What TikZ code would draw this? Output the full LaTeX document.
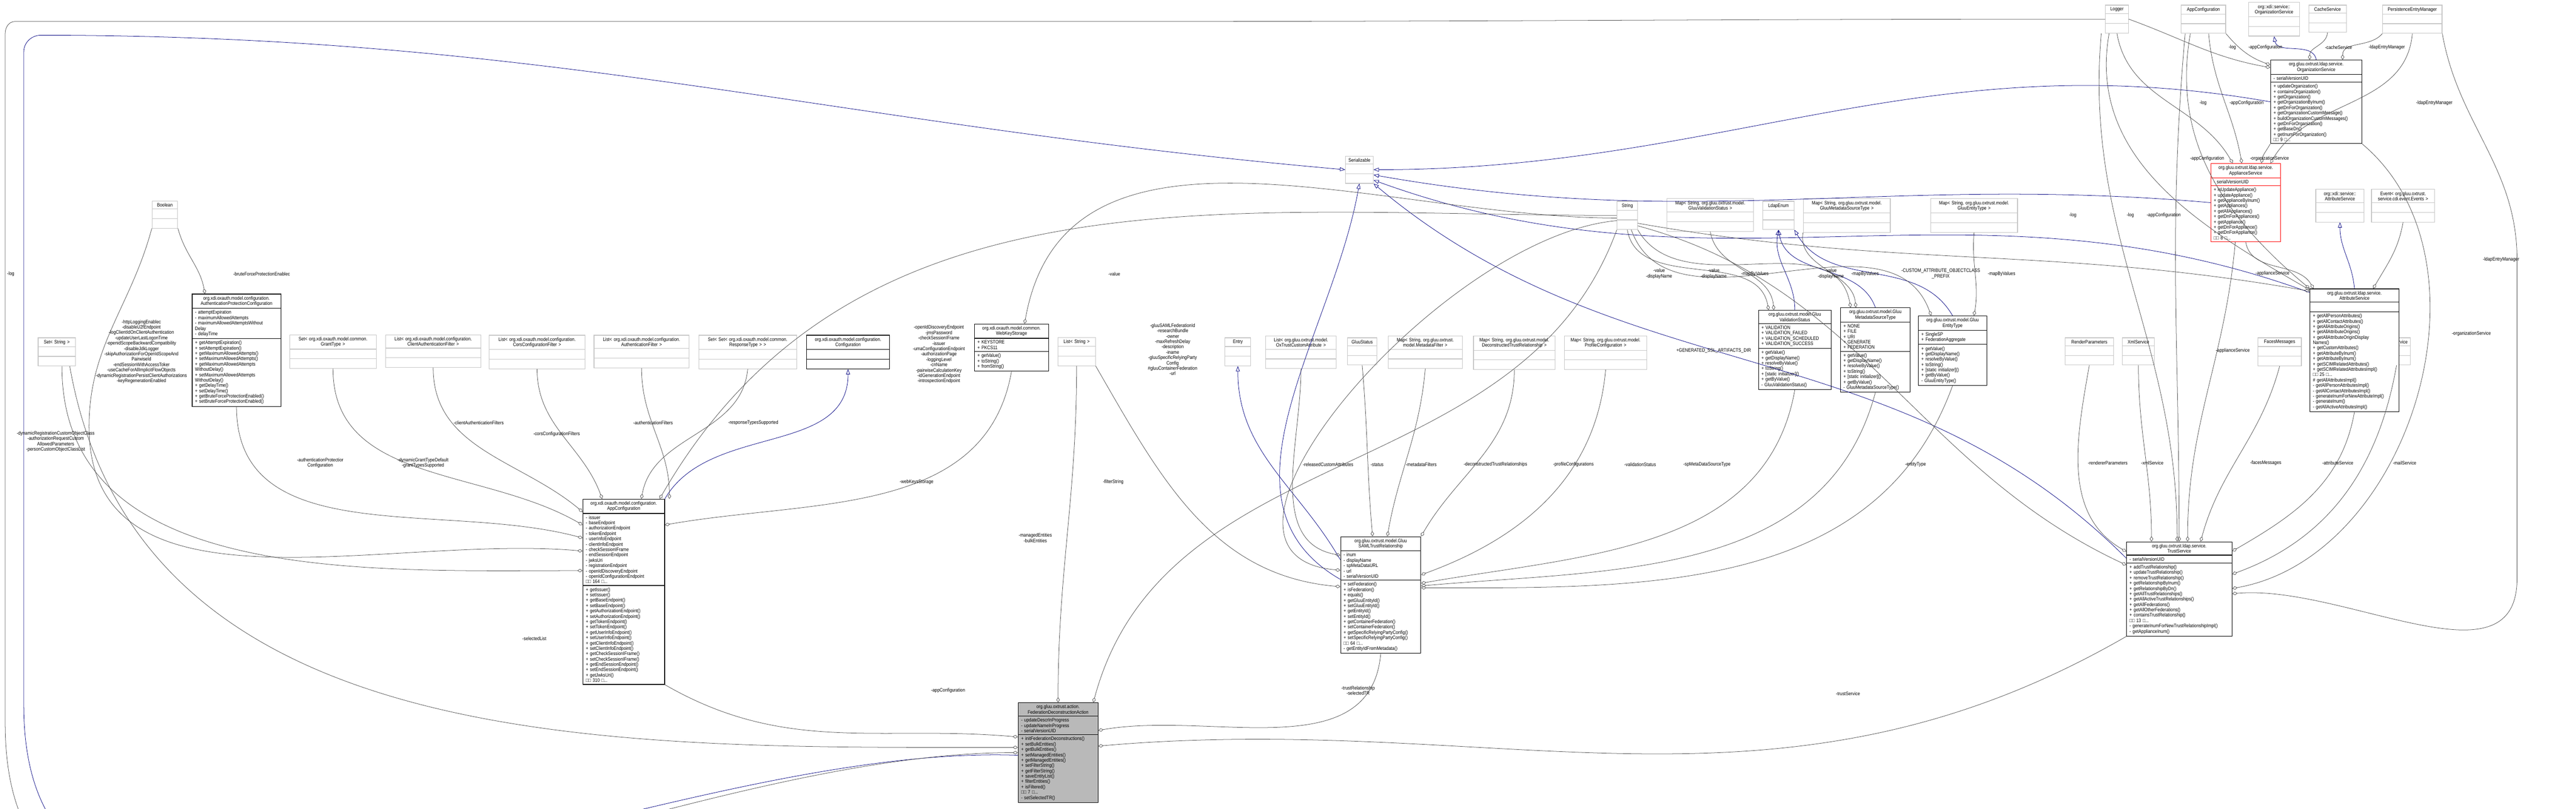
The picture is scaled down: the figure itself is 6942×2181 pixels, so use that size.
\documentclass[tikz,border=0pt]{standalone}
\usepackage{fontspec}
\setmainfont{Liberation Sans}[FakeStretch=0.86]
\usetikzlibrary{shapes.multipart,arrows.meta,positioning}

\newcommand{\fs}{\fontsize{3.8}{4.1}\selectfont}
\newcommand{\more}[1]{□□ #1 □...}

\tikzset{
  cls/.style={rectangle split, rectangle split parts=3, draw=black, line width=0.45pt,
    fill=white, font=\fs, inner xsep=0.08cm, inner ysep=0.05cm, align=left},
  extcls/.style={cls, draw=gray!45},
  redcls/.style={cls, draw=red},
  curcls/.style={cls, fill=gray!55},
  agg/.style={draw=black!70, line width=0.3pt, -{Diamond[open,length=4pt,width=2.6pt]}},
  inh/.style={draw=blue!50!black, line width=0.3pt, -{Triangle[open,length=4pt,width=3pt]}},
  lbl/.style={font=\fs, align=center, inner sep=0.5pt}
}

% class box: [style]{name}{x}{y}{text width}{title}{fields}{methods}
\newcommand{\umlbox}[8][cls]{%
  \node[#1, text width=#5cm, anchor=north west] (#2) at (#3,#4)
    {{\centering #6\par}\nodepart{two}#7\nodepart{three}#8};}
\newcommand{\extbox}[5]{\umlbox[extcls]{#1}{#2}{#3}{#4}{#5}{\strut}{\strut}}

\begin{document}
\begin{tikzpicture}[x=0.01cm, y=-0.01cm]
  \useasboundingbox (0,0) rectangle (6942,2181);

  % external classes, top row
  \extbox{logger}{5673}{13}{0.46}{Logger}
  \extbox{appConfTop}{5877}{13}{1.04}{AppConfiguration}
  \extbox{xdiOrgService}{6059}{6}{1.21}{org::xdi::service::\\OrganizationService}
  \extbox{cacheService}{6221}{13}{0.85}{CacheService}
  \extbox{entryManager}{6420}{13}{1.44}{PersistenceEntryManager}
  \extbox{serializable}{3625}{420}{0.59}{Serializable}
  \extbox{xdiAttrService}{6240}{510}{1.14}{org::xdi::service::\\AttributeService}
  \extbox{eventBox}{6390}{510}{1.54}{Event< org.gluu.oxtrust.\\service.cdi.event.Events >}

  % external classes, middle
  \extbox{boolBox}{409}{541}{0.53}{Boolean}
  \extbox{stringBox}{4357}{542}{0.39}{String}
  \extbox{mapValStatus}{4491}{535}{2.18}{Map< String, org.gluu.oxtrust.model.\\GluuValidationStatus >}
  \extbox{ldapEnum}{4750}{542}{0.68}{LdapEnum}
  \extbox{mapMetaType}{4859}{535}{2.18}{Map< String, org.gluu.oxtrust.model.\\GluuMetadataSourceType >}
  \extbox{mapEntityType}{5202}{535}{2.18}{Map< String, org.gluu.oxtrust.model.\\GluuEntityType >}
  \extbox{setString}{102}{910}{0.84}{Set< String >}
  \extbox{setGrantType}{780}{902}{2.17}{Set< org.xdi.oxauth.model.common.\\GrantType >}
  \extbox{listClientAuth}{1038}{902}{2.41}{List< org.xdi.oxauth.model.configuration.\\ClientAuthenticationFilter >}
  \extbox{listCors}{1318}{903}{2.41}{List< org.xdi.oxauth.model.configuration.\\CorsConfigurationFilter >}
  \extbox{listAuthFilter}{1600}{903}{2.40}{List< org.xdi.oxauth.model.configuration.\\AuthenticationFilter >}
  \extbox{setSetResponse}{1882}{903}{2.48}{Set< Set< org.xdi.oxauth.model.common.\\ResponseType > >}
  \umlbox{configuration}{2173}{903}{2.07}{org.xdi.oxauth.model.configuration.\\Configuration}{\strut}{\strut}
  \extbox{listString}{2850}{909}{0.85}{List< String >}
  \extbox{entryBox}{3300}{910}{0.54}{Entry}
  \extbox{listCustomAttr}{3410}{905}{1.74}{List< org.gluu.oxtrust.model.\\OxTrustCustomAttribute >}
  \extbox{gluuStatus}{3630}{910}{0.64}{GluuStatus}
  \extbox{mapFilters}{3740}{905}{1.84}{Map< String, org.gluu.oxtrust.\\model.MetadataFilter >}
  \extbox{mapDecon}{3970}{905}{2.04}{Map< String, org.gluu.oxtrust.model.\\DeconstructedTrustRelationship >}
  \extbox{mapProfile}{4215}{905}{2.06}{Map< String, org.gluu.oxtrust.model.\\ProfileConfiguration >}
  \extbox{rendererParams}{5564}{910}{1.15}{RenderParameters}
  \extbox{xmlService}{5719}{910}{0.70}{XmlService}
  \extbox{facesMessages}{6084}{910}{1.01}{FacesMessages}
  \extbox{mailService}{6420}{910}{0.59}{MailService}

  % documented classes
  \umlbox{orgService}{6118}{161}{2.30}{org.gluu.oxtrust.ldap.service.\\OrganizationService}
    {- serialVersionUID}
    {+ updateOrganization()\\+ containsOrganization()\\+ getOrganization()\\+ getOrganizationByInum()\\+ getDnForOrganization()\\+ getOrganizationCustomMessage()\\+ buildOrganizationCustomMessages()\\+ getDnForOrganization()\\+ getBaseDn()\\+ getInumForOrganization()\\\more{9}}
  \umlbox[redcls]{applianceService}{5957}{440}{1.72}{org.gluu.oxtrust.ldap.service.\\ApplianceService}
    {- serialVersionUID}
    {+ isUpdateAppliance()\\+ updateAppliance()\\+ getApplianceByInum()\\+ getAppliances()\\+ getAllAppliances()\\+ getDnForAppliances()\\+ getAppliance()\\+ getDnForAppliance()\\+ getDnForAppliance()\\\more{8}}
  \umlbox{attributeService}{6224}{778}{2.24}{org.gluu.oxtrust.ldap.service.\\AttributeService}
    {\strut}
    {+ getAllPersonAttributes()\\+ getAllContactAttributes()\\+ getAllAttributeOrigins()\\+ getAllAttributeOrigins()\\+ getAllAttributeOriginDisplay\\Names()\\+ getCustomAttributes()\\+ getAttributeByInum()\\+ getAttributeByInum()\\+ getSCIMRelatedAttributes()\\+ getSCIMRelatedAttributesImpl()\\\more{25}\\\# getAllAttributesImpl()\\- getAllPersonAttributesImpl()\\- getAllContactAttributesImpl()\\- generateInumForNewAttributeImpl()\\- generateInum()\\- getAllActiveAttributesImpl()}
  \umlbox{validationStatus}{4738}{836}{1.80}{org.gluu.oxtrust.model.Gluu\\ValidationStatus}
    {+ VALIDATION\\+ VALIDATION\_FAILED\\+ VALIDATION\_SCHEDULED\\+ VALIDATION\_SUCCESS}
    {+ getValue()\\+ getDisplayName()\\+ resolveByValue()\\+ toString()\\+ [static initializer]()\\+ getByValue()\\- GluuValidationStatus()}
  \umlbox{metadataSourceType}{4959}{829}{1.72}{org.gluu.oxtrust.model.Gluu\\MetadataSourceType}
    {+ NONE\\+ FILE\\+ URI\\+ GENERATE\\+ FEDERATION}
    {+ getValue()\\+ getDisplayName()\\+ resolveByValue()\\+ toString()\\+ [static initializer]()\\+ getByValue()\\- GluuMetadataSourceType()}
  \umlbox{entityType}{5169}{851}{1.68}{org.gluu.oxtrust.model.Gluu\\EntityType}
    {+ SingleSP\\+ FederationAggregate}
    {+ getValue()\\+ getDisplayName()\\+ resolveByValue()\\+ toString()\\+ [static initializer]()\\+ getByValue()\\- GluuEntityType()}
  \umlbox{authProtection}{517}{792}{2.23}{org.xdi.oxauth.model.configuration.\\AuthenticationProtectionConfiguration}
    {- attemptExpiration\\- maximumAllowedAttempts\\- maximumAllowedAttemptsWithout\\Delay\\- delayTime}
    {+ getAttemptExpiration()\\+ setAttemptExpiration()\\+ getMaximumAllowedAttempts()\\+ setMaximumAllowedAttempts()\\+ getMaximumAllowedAttempts\\WithoutDelay()\\+ setMaximumAllowedAttempts\\WithoutDelay()\\+ getDelayTime()\\+ setDelayTime()\\+ getBruteForceProtectionEnabled()\\+ setBruteForceProtectionEnabled()}
  \umlbox{webKeyStorage}{2625}{873}{1.84}{org.xdi.oxauth.model.common.\\WebKeyStorage}
    {+ KEYSTORE\\+ PKCS11}
    {+ getValue()\\+ toString()\\+ fromString()}
  \umlbox{appConfiguration}{1570}{1345}{2.04}{org.xdi.oxauth.model.configuration.\\AppConfiguration}
    {- issuer\\- baseEndpoint\\- authorizationEndpoint\\- tokenEndpoint\\- userInfoEndpoint\\- clientInfoEndpoint\\- checkSessionIFrame\\- endSessionEndpoint\\- jwksUri\\- registrationEndpoint\\- openIdDiscoveryEndpoint\\- openIdConfigurationEndpoint\\\more{164}}
    {+ getIssuer()\\+ setIssuer()\\+ getBaseEndpoint()\\+ setBaseEndpoint()\\+ getAuthorizationEndpoint()\\+ setAuthorizationEndpoint()\\+ getTokenEndpoint()\\+ setTokenEndpoint()\\+ getUserInfoEndpoint()\\+ setUserInfoEndpoint()\\+ getClientInfoEndpoint()\\+ setClientInfoEndpoint()\\+ getCheckSessionIFrame()\\+ setCheckSessionIFrame()\\+ getEndSessionEndpoint()\\+ setEndSessionEndpoint()\\+ getJwksUri()\\\more{310}}
  \umlbox{trustRelationship}{3612}{1446}{2.00}{org.gluu.oxtrust.model.Gluu\\SAMLTrustRelationship}
    {- inum\\- displayName\\- spMetaDataURL\\- url\\- serialVersionUID}
    {+ setFederation()\\+ isFederation()\\+ equals()\\+ getGluuEntityId()\\+ setGluuEntityId()\\+ getEntityId()\\+ setEntityId()\\+ getContainerFederation()\\+ setContainerFederation()\\+ getSpecificRelyingPartyConfig()\\+ setSpecificRelyingPartyConfig()\\\more{64}\\- getEntityIdFromMetadata()}
  \umlbox{trustService}{5730}{1460}{2.68}{org.gluu.oxtrust.ldap.service.\\TrustService}
    {- serialVersionUID}
    {+ addTrustRelationship()\\+ updateTrustRelationship()\\+ removeTrustRelationship()\\+ getRelationshipByInum()\\+ getRelationshipByDn()\\+ getAllTrustRelationships()\\+ getAllActiveTrustRelationships()\\+ getAllFederations()\\+ getAllOtherFederations()\\+ containsTrustRelationship()\\\more{13}\\- generateInumForNewTrustRelationshipImpl()\\- getApplianceInum()}
  \umlbox[curcls]{deconstructionAction}{2743}{1894}{1.99}{org.gluu.oxtrust.action.\\FederationDeconstructionAction}
    {- updateDescrInProgress\\- updateNameInProgress\\- serialVersionUID}
    {+ initFederationDeconstructions()\\+ setBulkEntities()\\+ getBulkEntities()\\+ setManagedEntities()\\+ getManagedEntities()\\+ setFilterString()\\+ getFilterString()\\+ saveEntityList()\\+ filterEntities()\\+ isFiltered()\\\more{7}\\- setSelectedTR()}

  % inheritance
  \draw[inh] ([yshift=-2pt]deconstructionAction.west) to[out=178,in=-90] (64,1900) -- (64,140) to[out=90,in=180] (110,95) to[out=0,in=175] (serializable.west);
  \draw[inh] (orgService.north) to[out=100,in=-80] (xdiOrgService.south);
  \draw[inh] (orgService.west) to[out=170,in=0] (serializable.east);
  \draw[inh] (applianceService.west) to[out=175,in=-10] ([yshift=-4pt]serializable.east);
  \draw[inh] ([yshift=-3pt]attributeService.north west) to[out=160,in=-20] ([yshift=-8pt]serializable.east);
  \draw[inh] (attributeService.north) to[out=95,in=-90] (xdiAttrService.south);
  \draw[inh] ([yshift=-12.8pt]trustService.north west) to[out=135,in=-40] (serializable.south east);
  \draw[inh] ([yshift=-18pt]trustRelationship.north west) to[out=120,in=-90] (entryBox.south);
  \draw[inh] ([yshift=-33pt]trustRelationship.north west) to[out=150,in=-100] (serializable.south);
  \draw[inh] (validationStatus.north) to[out=90,in=-100] (ldapEnum.south);
  \draw[inh] (metadataSourceType.north) to[out=110,in=-80] (ldapEnum.south);
  \draw[inh] (entityType.north) to[out=120,in=-60] (ldapEnum.south east);
  \draw[inh] (appConfiguration.north east) to[out=60,in=-90] (configuration.south);

  % FederationDeconstructionAction
  \draw[agg] (logger.west) to[out=180,in=0] (3000,58) -- (40,58) to[out=180,in=90] (14,90) -- (14,1950) to[out=-90,in=180] (deconstructionAction.west);
  \draw[agg] (appConfiguration.south east) to[out=-30,in=175] ([yshift=12pt]deconstructionAction.west);
  \draw[agg] ([xshift=10pt]setString.south) to[out=-80,in=180] ([yshift=4pt]deconstructionAction.west);
  \draw[agg] (listString.south) to[out=-90,in=90] (deconstructionAction.north);
  \draw[agg] (stringBox.south west) to[out=-110,in=75] ([xshift=27pt]deconstructionAction.north);
  \draw[agg] (trustRelationship.south) to[out=-95,in=10] ([yshift=17pt]deconstructionAction.east);
  \draw[agg] (trustService.south west) to[out=-150,in=5] ([yshift=5pt]deconstructionAction.east);

  % AppConfiguration
  \draw[agg] (boolBox.south east) to[out=-75,in=100] ([xshift=10pt]authProtection.north west);
  \draw[agg] (boolBox.south west) to[out=-105,in=90] (240,1150) to[out=-90,in=175] ([yshift=-40pt]appConfiguration.north west);
  \draw[agg] ([xshift=4pt]setString.south) to[out=-90,in=180] ([yshift=-55pt]appConfiguration.north west);
  \draw[agg] (authProtection.south) to[out=-90,in=165] ([yshift=-30pt]appConfiguration.north west);
  \draw[agg] (setGrantType.south) to[out=-90,in=150] ([yshift=-20pt]appConfiguration.north west);
  \draw[agg] (listClientAuth.south) to[out=-90,in=140] ([yshift=-10pt]appConfiguration.north west);
  \draw[agg] (listCors.south) to[out=-90,in=110] ([xshift=15pt]appConfiguration.north west);
  \draw[agg] (listAuthFilter.south) to[out=-90,in=90] ([xshift=35pt]appConfiguration.north);
  \draw[agg] (setSetResponse.south) to[out=-95,in=80] ([xshift=-18pt]appConfiguration.north east);
  \draw[agg] (stringBox.west) to[out=180,in=60] ([xshift=-4pt]appConfiguration.north east);
  \draw[agg] (webKeyStorage.south) to[out=-100,in=10] ([yshift=-20pt]appConfiguration.north east);
  \draw[agg] ([yshift=-2pt]stringBox.west) to[out=180,in=80] ([xshift=10pt]webKeyStorage.north);

  % GluuSAMLTrustRelationship
  \draw[agg] (listCustomAttr.south) to[out=-90,in=170] ([yshift=-14.5pt]trustRelationship.north west);
  \draw[agg] ([yshift=-4pt]stringBox.west) to[out=185,in=175] ([yshift=-26pt]trustRelationship.north west);
  \draw[agg] (listString.south east) to[out=-60,in=175] ([yshift=-38.6pt]trustRelationship.north west);
  \draw[agg] (gluuStatus.south) to[out=-85,in=95] ([xshift=24.7pt]trustRelationship.north west);
  \draw[agg] (mapFilters.south) to[out=-95,in=80] ([xshift=36pt]trustRelationship.north west);
  \draw[agg] (mapDecon.south) to[out=-90,in=60] (trustRelationship.north east);
  \draw[agg] (mapProfile.south) to[out=-95,in=20] ([yshift=-29.5pt]trustRelationship.north east);
  \draw[agg] (validationStatus.south) to[out=-100,in=10] ([yshift=-36pt]trustRelationship.north east);
  \draw[agg] (metadataSourceType.south) to[out=-105,in=5] ([yshift=-38pt]trustRelationship.north east);
  \draw[agg] (entityType.south) to[out=-110,in=0] ([yshift=-39.5pt]trustRelationship.north east);

  % enums
  \draw[agg] (stringBox.south) to[out=-80,in=100] ([xshift=8pt]validationStatus.north west);
  \draw[agg] (stringBox.south east) to[out=-60,in=100] ([xshift=8pt]metadataSourceType.north west);
  \draw[agg] ([xshift=-5pt]stringBox.south east) to[out=-70,in=110] ([xshift=10pt]entityType.north west);
  \draw[agg] (mapValStatus.south) to[out=-80,in=95] ([xshift=12pt]validationStatus.north west);
  \draw[agg] (mapMetaType.south west) to[out=-100,in=95] ([xshift=12pt]metadataSourceType.north west);
  \draw[agg] (mapEntityType.south) to[out=-95,in=80] ([xshift=-10pt]entityType.north east);

  % OrganizationService
  \draw[agg] (logger.east) to[out=-20,in=170] ([yshift=-6pt]orgService.north west);
  \draw[agg] (appConfTop.south east) to[out=-50,in=160] ([yshift=-4pt]orgService.north west);
  \draw[agg] (cacheService.south) to[out=-95,in=90] ([xshift=-5pt]orgService.north);
  \draw[agg] (entryManager.south west) to[out=-130,in=90] ([xshift=-15pt]orgService.north east);

  % ApplianceService
  \draw[agg] (logger.south) to[out=-80,in=120] ([xshift=-10pt]applianceService.north);
  \draw[agg] ([xshift=4pt]appConfTop.south) to[out=-85,in=100] ([xshift=-3pt]applianceService.north);
  \draw[agg] (entryManager.south) to[out=-95,in=60] ([xshift=-8pt]applianceService.north east);
  \draw[agg] (orgService.south west) to[out=-120,in=80] ([xshift=12pt]applianceService.north);

  % AttributeService
  \draw[agg] ([xshift=-6pt]logger.south) to[out=-100,in=150] ([yshift=-1pt]attributeService.north west);
  \draw[agg] ([xshift=-10pt]appConfTop.south) to[out=-100,in=140] (attributeService.north west);
  \draw[agg] (applianceService.south) to[out=-80,in=120] ([xshift=3pt]attributeService.north west);
  \draw[agg] ([yshift=-6pt]stringBox.east) to[out=-10,in=170] ([yshift=-2pt]attributeService.north west);
  \draw[agg] (eventBox.south) to[out=-100,in=60] ([xshift=-20pt]attributeService.north east);

  % TrustService
  \draw[agg] (xmlService.south) to[out=-90,in=90] ([xshift=19.3pt]trustService.north west);
  \draw[agg] ([xshift=-12pt]logger.south) to[out=-95,in=90] ([xshift=39pt]trustService.north west);
  \draw[agg] ([xshift=-14pt]appConfTop.south) to[out=-95,in=90] ([xshift=40.5pt]trustService.north west);
  \draw[agg] ([xshift=-8pt]applianceService.south) to[out=-95,in=90] ([xshift=47pt]trustService.north west);
  \draw[agg] (facesMessages.south) to[out=-105,in=75] ([xshift=57pt]trustService.north west);
  \draw[agg] (rendererParams.south) to[out=-100,in=150] ([yshift=-7.7pt]trustService.north west);
  \draw[agg] ([yshift=-8pt]stringBox.east) to[out=-15,in=155] ([yshift=-18pt]trustService.north west);
  \draw[agg] (attributeService.south) to[out=-100,in=30] ([yshift=-7.4pt]trustService.north east);
  \draw[agg] (mailService.south) to[out=-100,in=20] ([yshift=-25pt]trustService.north east);
  \draw[agg] (orgService.south east) to[out=-40,in=10] ([yshift=-36pt]trustService.north east);
  \draw[agg] (entryManager.south east) to[out=-80,in=90] (6783,700) -- (6783,1560) to[out=-90,in=5] ([yshift=-40pt]trustService.north east);

  % connector labels
  \node[lbl] (lLogLeft) at (29,738) {-log};
  \node[lbl] (lBrute) at (705,738) {-bruteForceProtectionEnablec};
  \node[lbl, anchor=north] (lBoolFlags) at (381,860) {-httpLoggingEnablec\\-disableU2fEndpoint\\-logClientIdOnClientAuthentication\\-updateUserLastLogonTime\\-openidScopeBackwardCompatibility\\-disableJdkLogger\\-skipAuthorizationForOpenIdScopeAnd\\PairwiseId\\-endSessionWithAccessToker\\-useCacheForAllImplicitFlowObjects\\-dynamicRegistrationPersistClientAuthorizations\\-keyRegenerationEnabled};
  \node[lbl, anchor=north] (lSetString) at (150,1160) {-dynamicRegistrationCustomObjectClass\\-authorizationRequestCustom\\AllowedParameters\\-personCustomObjectClassList};
  \node[lbl] (lAuthProt) at (863,1248) {-authenticationProtectior\\Configuration};
  \node[lbl] (lGrant) at (1140,1248) {-dynamicGrantTypeDefault\\-grantTypesSupported};
  \node[lbl] (lClientAuth) at (1290,1140) {-clientAuthenticationFilters};
  \node[lbl] (lCors) at (1500,1170) {-corsConfigurationFilters};
  \node[lbl] (lAuthFilter) at (1760,1140) {-authenticationFilters};
  \node[lbl] (lResponse) at (2030,1140) {-responseTypesSupported};
  \node[lbl, anchor=north] (lStrings) at (2530,875) {-openIdDiscoveryEndpoint\\-jmsPassword\\-checkSessionIFrame\\-issuer\\-umaConfigurationEndpoint\\-authorizationPage\\-loggingLevel\\-cnName\\-pairwiseCalculationKey\\-idGenerationEndpoint\\-introspectionEndpoint};
  \node[lbl] (lWebKeys) at (2470,1300) {-webKeysStorage};
  \node[lbl] (lValue) at (3003,738) {-value};
  \node[lbl, anchor=north] (lSamlStrings) at (3160,870) {-gluuSAMLFederationId\\-researchBundle\\-owner\\-maxRefreshDelay\\-description\\-iname\\-gluuSpecificRelyingParty\\Config\\\#gluuContainerFederation\\-url};
  \node[lbl] (lSelected) at (1440,1722) {-selectedList};
  \node[lbl] (lAppConf) at (2555,1862) {-appConfiguration};
  \node[lbl] (lManaged) at (2790,1450) {-managedEntities\\-bulkEntities};
  \node[lbl] (lFilter) at (3000,1300) {-filterString};
  \node[lbl] (lTrustRel) at (3660,1862) {-trustRelationship\\-selectedTR};
  \node[lbl] (lTrustSvc) at (4980,1870) {-trustService};
  \node[lbl] (lCustomAttr) at (3579,1253) {-releasedCustomAttributes};
  \node[lbl] (lStatus) at (3711,1253) {-status};
  \node[lbl] (lFilters) at (3830,1253) {-metadataFilters};
  \node[lbl] (lDecon) at (4030,1253) {-deconstructedTrustRelationships};
  \node[lbl] (lProfile) at (4240,1253) {-profileConfigurations};
  \node[lbl] (lValStatus) at (4420,1253) {-validationStatus};
  \node[lbl] (lSourceType) at (4600,1253) {-spMetaDataSourceType};
  \node[lbl] (lEntityType) at (5162,1253) {-entityType};
  \node[lbl] (lVal1) at (4471,738) {-value\\-displayName};
  \node[lbl] (lVal2) at (4618,738) {-value\\-displayName};
  \node[lbl] (lMap1) at (4729,738) {-mapByValues};
  \node[lbl] (lVal3) at (4934,738) {-value\\-displayName};
  \node[lbl] (lMap2) at (5026,738) {-mapByValues};
  \node[lbl] (lPrefix) at (5230,738) {-CUSTOM\_ATTRIBUTE\_OBJECTCLASS\\\_PREFIX};
  \node[lbl] (lMap3) at (5394,738) {-mapByValues};
  \node[lbl] (lSslDir) at (4618,946) {+GENERATED\_SSL\_ARTIFACTS\_DIR};
  \node[lbl] (lLog1) at (5586,580) {-log};
  \node[lbl] (lLog2) at (5741,580) {-log};
  \node[lbl] (lApp1) at (5831,580) {-appConfiguration};
  \node[lbl] (lLog3) at (6016,128) {-log};
  \node[lbl] (lApp2) at (6105,128) {-appConfiguration};
  \node[lbl] (lCache) at (6302,128) {-cacheService};
  \node[lbl] (lEntry1) at (6432,128) {-ldapEntryManager};
  \node[lbl] (lLog4) at (5937,278) {-log};
  \node[lbl] (lApp3) at (6054,278) {-appConfiguration};
  \node[lbl] (lEntry2) at (6560,278) {-ldapEntryManager};
  \node[lbl] (lApp4) at (5948,428) {-appConfiguration};
  \node[lbl] (lOrg1) at (6116,428) {-organizationService};
  \node[lbl] (lAppl1) at (6124,737) {-applianceService};
  \node[lbl] (lAppl2) at (6017,946) {-applianceService};
  \node[lbl] (lEntry3) at (6740,700) {-ldapEntryManager};
  \node[lbl] (lOrg2) at (6660,900) {-organizationService};
  \node[lbl] (lRender) at (5680,1248) {-rendererParameters};
  \node[lbl] (lXml) at (5800,1248) {-xmlService};
  \node[lbl] (lFaces) at (6106,1248) {-facesMessages};
  \node[lbl] (lAttr) at (6300,1248) {-attributeService};
  \node[lbl] (lMail) at (6480,1248) {-mailService};
\end{tikzpicture}
\end{document}
